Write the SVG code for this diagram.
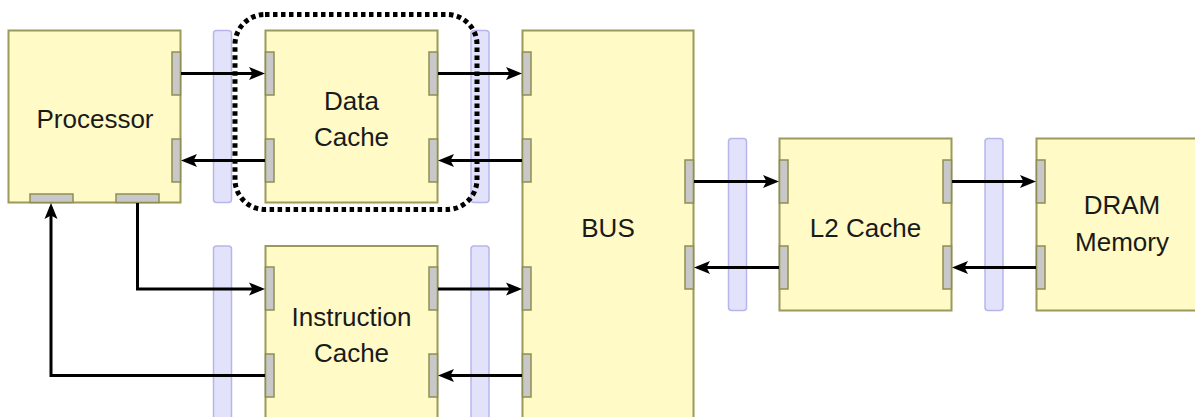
<svg xmlns="http://www.w3.org/2000/svg" width="1195" height="417" viewBox="0 0 1195 417">
<style>
.node{fill:#fffac6;stroke:#9a9a5c;stroke-width:2}
.port{fill:#c8c8c8;stroke:#8e8e52;stroke-width:1.5}
.bar{fill:#e2e2fb;stroke:#b6b6ec;stroke-width:1.5}
.lbl{font-family:"Liberation Sans",Arial,sans-serif;font-size:26px;fill:#1a1a1a;text-anchor:middle}
.conn{fill:none;stroke:#000;stroke-width:3}
.hl{fill:none;stroke:#000;stroke-width:5;stroke-dasharray:4.5 3.5}
</style>
<defs>
<marker id="ah" markerUnits="userSpaceOnUse" markerWidth="18" markerHeight="16" refX="12" refY="8" orient="auto">
<path d="M0,1.5 L16,8 L0,14.5 L3.5,8 Z" fill="#000"/>
</marker>
</defs>
<rect width="1195" height="417" fill="#fff"/>
<g id="bars">
<rect class="bar" x="213.5" y="30.5" width="18" height="172" rx="3"/>
<rect class="bar" x="471" y="30.5" width="18" height="172" rx="3"/>
<rect class="bar" x="213.5" y="246" width="18" height="180" rx="3"/>
<rect class="bar" x="471" y="246" width="18" height="180" rx="3"/>
<rect class="bar" x="728.5" y="138.5" width="18" height="172" rx="3"/>
<rect class="bar" x="985" y="138.5" width="18" height="172" rx="3"/>
</g>
<g id="processor">
<rect class="node" x="8.5" y="30.5" width="172" height="172"/>
<rect class="port" x="172" y="52" width="8.5" height="43"/>
<rect class="port" x="172" y="139" width="8.5" height="43"/>
<rect class="port" x="30" y="194" width="43" height="8.5"/>
<rect class="port" x="116" y="194" width="43" height="8.5"/>
<text class="lbl" x="95" y="128">Processor</text>
</g>
<g id="data-cache">
<rect class="node" x="265.5" y="30.5" width="172" height="172"/>
<rect class="port" x="265.5" y="52" width="8.5" height="43"/>
<rect class="port" x="265.5" y="139" width="8.5" height="43"/>
<rect class="port" x="429" y="52" width="8.5" height="43"/>
<rect class="port" x="429" y="139" width="8.5" height="43"/>
<text class="lbl" x="351.5" y="110">Data</text>
<text class="lbl" x="351.5" y="146">Cache</text>
</g>
<g id="instruction-cache">
<rect class="node" x="265.5" y="246" width="172" height="180"/>
<rect class="port" x="265.5" y="267" width="8.5" height="43"/>
<rect class="port" x="265.5" y="354" width="8.5" height="43"/>
<rect class="port" x="429" y="267" width="8.5" height="43"/>
<rect class="port" x="429" y="354" width="8.5" height="43"/>
<text class="lbl" x="351.5" y="326">Instruction</text>
<text class="lbl" x="351.5" y="362">Cache</text>
</g>
<g id="bus">
<rect class="node" x="522.5" y="30.5" width="171" height="395"/>
<rect class="port" x="522.5" y="52" width="8.5" height="43"/>
<rect class="port" x="522.5" y="139" width="8.5" height="43"/>
<rect class="port" x="522.5" y="267" width="8.5" height="43"/>
<rect class="port" x="522.5" y="354" width="8.5" height="43"/>
<rect class="port" x="685" y="160" width="8.5" height="43"/>
<rect class="port" x="685" y="246" width="8.5" height="43"/>
<text class="lbl" x="608" y="237">BUS</text>
</g>
<g id="l2-cache">
<rect class="node" x="779.5" y="138.5" width="172" height="172"/>
<rect class="port" x="779.5" y="160" width="8.5" height="43"/>
<rect class="port" x="779.5" y="246" width="8.5" height="43"/>
<rect class="port" x="943" y="160" width="8.5" height="43"/>
<rect class="port" x="943" y="246" width="8.5" height="43"/>
<text class="lbl" x="865.5" y="237">L2 Cache</text>
</g>
<g id="dram">
<rect class="node" x="1036.5" y="138.5" width="172" height="172"/>
<rect class="port" x="1036.5" y="160" width="8.5" height="43"/>
<rect class="port" x="1036.5" y="246" width="8.5" height="43"/>
<text class="lbl" x="1122" y="214">DRAM</text>
<text class="lbl" x="1122" y="251">Memory</text>
</g>
<g id="connectors">
<path class="conn" d="M181,73.5 H261" marker-end="url(#ah)"/>
<path class="conn" d="M265,160.5 H185" marker-end="url(#ah)"/>
<path class="conn" d="M438,73.5 H518" marker-end="url(#ah)"/>
<path class="conn" d="M522,160.5 H442" marker-end="url(#ah)"/>
<path class="conn" d="M137.5,203 V289 H261" marker-end="url(#ah)"/>
<path class="conn" d="M265,375.5 H51 V207" marker-end="url(#ah)"/>
<path class="conn" d="M438,289 H518" marker-end="url(#ah)"/>
<path class="conn" d="M522,375.5 H442" marker-end="url(#ah)"/>
<path class="conn" d="M694,181.5 H775" marker-end="url(#ah)"/>
<path class="conn" d="M779,267.5 H698" marker-end="url(#ah)"/>
<path class="conn" d="M952,181.5 H1032" marker-end="url(#ah)"/>
<path class="conn" d="M1036,267.5 H956" marker-end="url(#ah)"/>
</g>
<g id="highlight">
<rect class="hl" x="235" y="14.5" width="242" height="195" rx="30"/>
</g>
</svg>
